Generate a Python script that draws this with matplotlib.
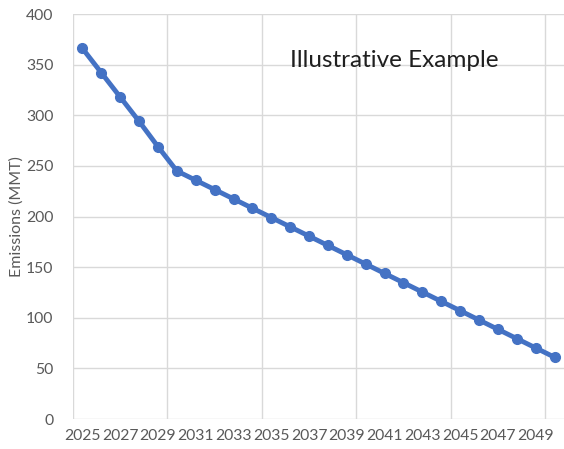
import numpy as np
import matplotlib
matplotlib.use("Agg")
import matplotlib.pyplot as plt

plt.rcParams['font.family'] = ['Lato', 'DejaVu Sans']

# Annual emissions pathway (MMT)
years = list(range(2025, 2051))
emissions = [366, 342, 318, 294, 269, 245,
             235.8, 226.6, 217.4, 208.2, 199.0, 189.8, 180.6, 171.4, 162.2,
             153.0, 143.8, 134.6, 125.4, 116.2, 107.0, 97.8, 88.6, 79.4, 70.2, 61.0]
tick_years = list(range(2025, 2050, 2))
y_ticks = list(range(0, 401, 50))

fig = plt.figure(figsize=(5.64, 4.49), dpi=100)
ax = fig.add_axes([0.1294, 0.0668, 0.8706, 0.902])

ax.plot(years, emissions, color='#4472C4', linewidth=3.5, marker='o',
        markersize=7, solid_capstyle='round', zorder=3)

ax.set_xlim(2024.5, 2050.5)
ax.set_ylim(0, 400)
ax.set_xticks(tick_years)
ax.set_xticks(np.arange(2024.5, 2051, 5), minor=True)
ax.set_yticks(y_ticks)

ax.grid(True, which='minor', axis='x', color='#D9D9D9', linewidth=1)
ax.grid(True, which='major', axis='y', color='#D9D9D9', linewidth=1)
ax.set_axisbelow(True)
for s in ax.spines.values():
    s.set_visible(False)

ax.tick_params(axis='both', which='both', length=0, labelsize=11.3,
               labelcolor='#595959')
ax.tick_params(axis='x', pad=7)
ax.tick_params(axis='y', pad=14)

ax.set_ylabel('Emissions (MMT)', fontsize=11.5, color='#595959', labelpad=2)

ax.text(0.655, 0.885, 'Illustrative Example', transform=ax.transAxes,
        ha='center', va='center', fontsize=17.5, color='#1F1F1F')

fig.savefig('out.png', dpi=100)
